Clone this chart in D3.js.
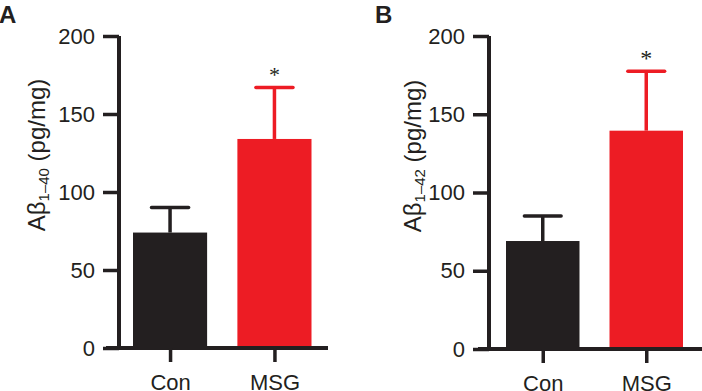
<!DOCTYPE html>
<html>
<head>
<meta charset="utf-8">
<script src="https://cdn.jsdelivr.net/npm/d3@7"></script>
<style>
  html, body { margin: 0; padding: 0; background: #fff; }
  svg { display: block; }
  text { font-family: "Liberation Sans", Arial, sans-serif; fill: #231F20; }
</style>
</head>
<body>
<svg id="chart" width="702" height="391"></svg>
<script>
// ---- data ----
const categories = ["Con", "MSG"];
const barColors = ["#231F20", "#ED1C24"];
const yTicks = [0, 50, 100, 150, 200];
const panelLabels = ["A", "B"];
const meansA = [74, 134];
const semA = [16, 33];
const meansB = [69, 139.5];
const semB = [16, 38];
const significant = [false, true];
const subscriptA = "1\u201340";
const subscriptB = "1\u201342";

const svg = d3.select("#chart");
const ink = "#231F20";

function drawPanel(cfg) {
  const g = svg.append("g");
  const y = d3.scaleLinear().domain([0, 200]).range([cfg.y0, cfg.y200]);
  const x = d3.scaleBand().domain(categories).range(cfg.xRange)
    .paddingInner(0.29).paddingOuter(0);

  // bars
  g.selectAll("rect.bar").data(cfg.means).enter().append("rect")
    .attr("x", (d, i) => x(categories[i]))
    .attr("width", x.bandwidth())
    .attr("y", d => y(d))
    .attr("height", d => y(0) - y(d))
    .attr("fill", (d, i) => barColors[i]);

  // error bars
  cfg.means.forEach((m, i) => {
    const cx = x(categories[i]) + x.bandwidth() / 2;
    const top = y(m + cfg.sem[i]);
    const half = x.bandwidth() / 4;
    g.append("line").attr("x1", cx).attr("x2", cx)
      .attr("y1", y(m)).attr("y2", top)
      .attr("stroke", barColors[i]).attr("stroke-width", 3.5);
    g.append("line").attr("x1", cx - half).attr("x2", cx + half)
      .attr("y1", top).attr("y2", top)
      .attr("stroke", barColors[i]).attr("stroke-width", 3.5)
      .attr("stroke-linecap", "round");
    if (significant[i]) {
      g.append("text").attr("x", cx).attr("y", top - cfg.starGap)
        .attr("text-anchor", "middle")
        .style("font-family", "'Liberation Serif', 'Times New Roman', serif")
        .style("font-size", cfg.starSize + "px")
        .text("*");
    }
  });

  // y axis
  const yAxis = d3.axisLeft(y).tickValues(yTicks).tickSize(16).tickPadding(8);
  const ya = g.append("g").attr("transform", `translate(${cfg.axisX},0)`).call(yAxis);
  ya.select(".domain").attr("d", `M0,${cfg.y200}V${cfg.y0}`)
    .attr("stroke", ink).attr("stroke-width", 4);
  ya.selectAll(".tick line").attr("stroke", ink).attr("stroke-width", 3.5);
  ya.selectAll(".tick text").style("font-size", "22px")
    .style("font-family", "'Liberation Sans', Arial, sans-serif").attr("fill", ink);

  // x axis
  const xPoint = d3.scalePoint().domain(categories)
    .range([x(categories[0]) + x.bandwidth() / 2, x(categories[1]) + x.bandwidth() / 2]);
  const xAxis = d3.axisBottom(xPoint).tickSize(14).tickPadding(12);
  const xa = g.append("g").attr("transform", `translate(0,${cfg.y0})`).call(xAxis);
  xa.select(".domain").attr("d", `M${cfg.xLineStart},0H${cfg.xLineEnd}`)
    .attr("stroke", ink).attr("stroke-width", 4);
  xa.selectAll(".tick line").attr("stroke", ink).attr("stroke-width", 3.5);
  xa.selectAll(".tick text").style("font-size", "22px")
    .style("font-family", "'Liberation Sans', Arial, sans-serif").attr("fill", ink);

  // y title
  const yt = g.append("text")
    .attr("transform", `translate(${cfg.titleX},${cfg.titleY}) rotate(-90)`)
    .attr("text-anchor", "middle")
    .style("font-size", "24px");
  yt.append("tspan").text("A\u03B2");
  yt.append("tspan").attr("dy", 4).style("font-size", "15px").text(cfg.subscript);
  yt.append("tspan").attr("dy", -4).text(" (pg/mg)");

  // panel label
  g.append("text").attr("x", cfg.labelX).attr("y", 23)
    .style("font-size", "24px").style("font-weight", "bold")
    .attr("fill", "#000").text(cfg.label);
}

drawPanel({
  means: meansA, sem: semA, subscript: subscriptA, label: panelLabels[0],
  y0: 348, y200: 36, xRange: [133, 311.5], axisX: 119,
  xLineStart: 106, xLineEnd: 328, titleX: 45, titleY: 155, labelX: -1,
  starGap: 5, starSize: 22
});
drawPanel({
  means: meansB, sem: semB, subscript: subscriptB, label: panelLabels[1],
  y0: 349, y200: 36, xRange: [506, 683], axisX: 489,
  xLineStart: 478, xLineEnd: 702, titleX: 421, titleY: 156, labelX: 375,
  starGap: 5, starSize: 24
});
</script>
</body>
</html>
